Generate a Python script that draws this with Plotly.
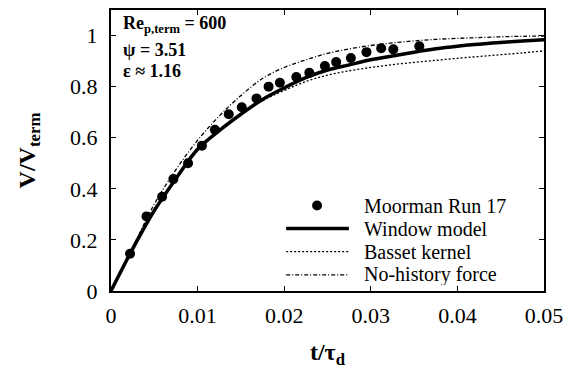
import plotly.graph_objects as go

# Measured velocity history (Moorman Run 17)
t_exp = [0.0022, 0.0041, 0.0059, 0.0072, 0.0089, 0.0105, 0.0120, 0.0136, 0.0151,
         0.0168, 0.0182, 0.0195, 0.0214, 0.0229, 0.0247, 0.0260, 0.0277, 0.0295,
         0.0312, 0.0326, 0.0356]
v_exp = [0.146, 0.292, 0.369, 0.438, 0.500, 0.569, 0.631, 0.692, 0.719,
         0.754, 0.800, 0.815, 0.838, 0.854, 0.881, 0.896, 0.912, 0.935,
         0.950, 0.946, 0.958]

# Model predictions on a common time grid
t_model = [0.0, 0.0025, 0.005, 0.0075, 0.01, 0.0125, 0.015, 0.0175, 0.02, 0.0225,
           0.025, 0.0275, 0.03, 0.0325, 0.035, 0.0375, 0.04, 0.0425, 0.045, 0.0475, 0.05]
v_window = [0.0, 0.165, 0.315, 0.44, 0.555, 0.628, 0.692, 0.75, 0.795, 0.835,
            0.865, 0.885, 0.905, 0.92, 0.935, 0.948, 0.958, 0.966, 0.973, 0.979, 0.984]
v_basset = [0.0, 0.165, 0.315, 0.44, 0.555, 0.628, 0.69, 0.745, 0.785, 0.82,
            0.845, 0.862, 0.875, 0.886, 0.895, 0.903, 0.911, 0.918, 0.925, 0.932, 0.94]
v_nohist = [0.0, 0.17, 0.34, 0.475, 0.59, 0.685, 0.765, 0.832, 0.875, 0.905,
            0.93, 0.948, 0.961, 0.971, 0.979, 0.985, 0.989, 0.992, 0.995, 0.997, 0.998]

x_ticks = [0, 0.01, 0.02, 0.03, 0.04, 0.05]
x_tick_text = ["0", "0.01", "0.02", "0.03", "0.04", "0.05"]
y_ticks = [0, 0.2, 0.4, 0.6, 0.8, 1.0]
y_tick_text = ["0", "0.2", "0.4", "0.6", "0.8", "1"]

legend_labels = ["Moorman Run 17", "Window model", "Basset kernel", "No-history force"]
params = ["Re<sub>p,term</sub> = 600", "ψ = 3.51", "ε ≈ 1.16"]

SERIF = "Liberation Serif"
W, H = 571, 369
L, R, T, B = 111, 25, 8, 75

fig = go.Figure()
fig.add_trace(go.Scatter(x=t_model, y=v_basset, mode="lines", line_shape="spline",
                         line=dict(color="black", width=1.3, dash="2px,2px")))
fig.add_trace(go.Scatter(x=t_model, y=v_nohist, mode="lines", line_shape="spline",
                         line=dict(color="black", width=1.3, dash="4px,2px,1px,2px")))
fig.add_trace(go.Scatter(x=t_model, y=v_window, mode="lines", line_shape="spline",
                         line=dict(color="black", width=3.5)))
fig.add_trace(go.Scatter(x=t_exp, y=v_exp, mode="markers",
                         marker=dict(color="black", size=10)))

# Legend drawn inside the plot area (paper coordinates)
pw, ph = W - L - R, H - T - B
def px(x):
    return (x - L) / pw
def py(y):
    return (H - B - y) / ph

rows_y = [207, 230.5, 254, 277.5]
line_x0, line_x1, text_x = 287, 350, 364
fig.add_shape(type="circle", xref="paper", yref="paper",
              x0=px(318 - 5), x1=px(318 + 5), y0=py(rows_y[0] + 5), y1=py(rows_y[0] - 5),
              fillcolor="black", line=dict(color="black", width=0))
styles = [dict(width=3.5), dict(width=1.3, dash="2px,2px"), dict(width=1.3, dash="4px,2px,1px,2px")]
for ry, st in zip(rows_y[1:], styles):
    fig.add_shape(type="line", xref="paper", yref="paper",
                  x0=px(line_x0), x1=px(line_x1), y0=py(ry), y1=py(ry),
                  line=dict(color="black", **st))
for ry, lab in zip(rows_y, legend_labels):
    fig.add_annotation(x=px(text_x), y=py(ry), xref="paper", yref="paper",
                       text=lab, showarrow=False, xanchor="left", yanchor="middle",
                       height=21, valign="middle", borderpad=0,
                       font=dict(family=SERIF, size=20, color="black"))

# Parameter block, top left
for ry, txt in zip([23, 49, 70], params):
    fig.add_annotation(x=px(121), y=py(ry), xref="paper", yref="paper",
                       text="<b>" + txt + "</b>", showarrow=False, xanchor="left", yanchor="middle",
                       font=dict(family=SERIF, size=18, color="black"))

axis_common = dict(showgrid=False, zeroline=False, showline=True, linecolor="black",
                   linewidth=2, mirror="ticks", ticks="inside", ticklen=5, tickwidth=1,
                   tickcolor="black", tickfont=dict(family=SERIF, size=22, color="black"))

fig.update_layout(
    width=W, height=H,
    margin=dict(l=L, r=R, t=T, b=B),
    paper_bgcolor="white", plot_bgcolor="white",
    showlegend=False,
    xaxis=dict(range=[0, 0.05], tickvals=x_ticks, ticktext=x_tick_text, ticklabelstandoff=4,
               title=dict(text="<b>t/τ<sub>d</sub></b>", font=dict(family=SERIF, size=24, color="black"),
                          standoff=16),
               **axis_common),
    yaxis=dict(range=[0, 1.1], tickvals=y_ticks, ticktext=y_tick_text, ticklabelstandoff=7,
               title=dict(text="<b>V/V<sub>term</sub></b>", font=dict(family=SERIF, size=24, color="black"),
                          standoff=28),
               **axis_common),
)

fig.write_html("out.html")
